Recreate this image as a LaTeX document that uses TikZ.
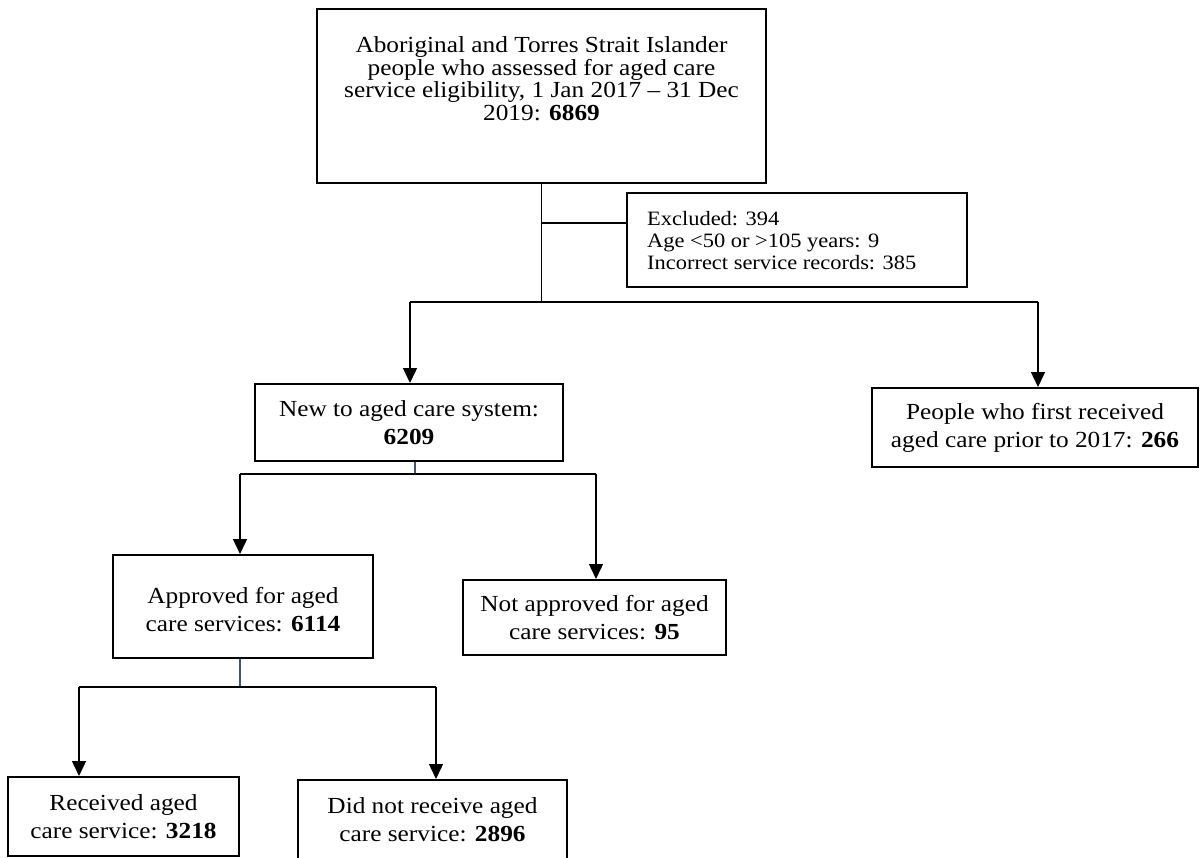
\documentclass[tikz,border=0pt]{standalone}
\usepackage{fontspec}
\setmainfont{Liberation Serif}[FakeStretch=1.1]
\usetikzlibrary{arrows.meta}
\definecolor{conn}{HTML}{44546A}
\begin{document}
\begin{tikzpicture}[x=1pt,y=-1pt,
  box/.style={draw=black, line width=2pt, inner sep=0pt},
  txt/.style={align=center, font=\fontsize{23}{28}\selectfont, inner sep=0pt},
  arr/.style={line width=1.4pt, -{Triangle[length=15pt,width=14pt]}},
  ln/.style={line width=1.4pt},
  bl/.style={line width=1.4pt, draw=conn}]
\useasboundingbox (0,0) rectangle (1201,857);

% boxes
\node[box, minimum width=449pt, minimum height=174pt] (top) at (541.5,96) {};
\node[txt, anchor=north, font=\fontsize{23}{22.6}\selectfont] (toptxt) at (541.5,36.5)
  {Aboriginal and Torres Strait Islander\\people who assessed for aged care\\service eligibility, 1 Jan 2017 -- 31 Dec\\2019: \textbf{6869}};

\node[box, minimum width=340pt, minimum height=94pt] (excl) at (797,240) {};
\node[anchor=north west, align=left, inner sep=0pt, font=\fontsize{20.4}{22.3}\selectfont] (excltxt) at (647,211)
  {Excluded: 394\\Age <50 or >105 years: 9\\Incorrect service records: 385};

\node[box, txt, minimum width=308pt, minimum height=77pt] (new) at (409,422.5)
  {New to aged care system:\\\textbf{6209}};
\node[box, txt, minimum width=326pt, minimum height=79pt] (people) at (1035,427.5)
  {People who first received\\aged care prior to 2017: \textbf{266}};
\node[box, minimum width=260pt, minimum height=103pt] (appr) at (243,606.5) {};
\node[txt] (apprtxt) at (243,610) {Approved for aged\\care services: \textbf{6114}};
\node[box, txt, minimum width=263pt, minimum height=75pt] (notappr) at (594.5,617.5)
  {Not approved for aged\\care services: \textbf{95}};
\node[box, txt, minimum width=231pt, minimum height=79pt] (recv) at (123.5,816.5)
  {Received aged\\care service: \textbf{3218}};
\node[box, txt, minimum width=269pt, minimum height=80pt] (dnr) at (432.5,820)
  {Did not receive aged\\care service: \textbf{2896}};

% junctions
\coordinate (j1) at (541.5,302);
\coordinate (e1) at (541.5,223);
\coordinate (a1) at (410,302);
\coordinate (a2) at (1038,302);
\coordinate (j2) at (415,474);
\coordinate (b1) at (240,474);
\coordinate (b2) at (596,474);
\coordinate (j3) at (240,687);
\coordinate (c1) at (79,687);
\coordinate (c2) at (436,687);

% connectors
\draw[ln] (top.south) -- (j1);
\draw[ln] (e1) -- (e1 -| excl.west);
\draw[ln] (a1) -- (a2);
\draw[arr] (a1) -- (a1 |- new.north);
\draw[arr] (a2) -- (a2 |- people.north);

\draw[bl] (j2 |- new.south) -- (j2);
\draw[ln] (b1) -- (b2);
\draw[arr] (b1) -- (b1 |- appr.north);
\draw[arr] (b2) -- (b2 |- notappr.north);

\draw[bl] (j3 |- appr.south) -- (j3);
\draw[ln] (c1) -- (c2);
\draw[arr] (c1) -- (c1 |- recv.north);
\draw[arr] (c2) -- (c2 |- dnr.north);
\end{tikzpicture}
\end{document}
